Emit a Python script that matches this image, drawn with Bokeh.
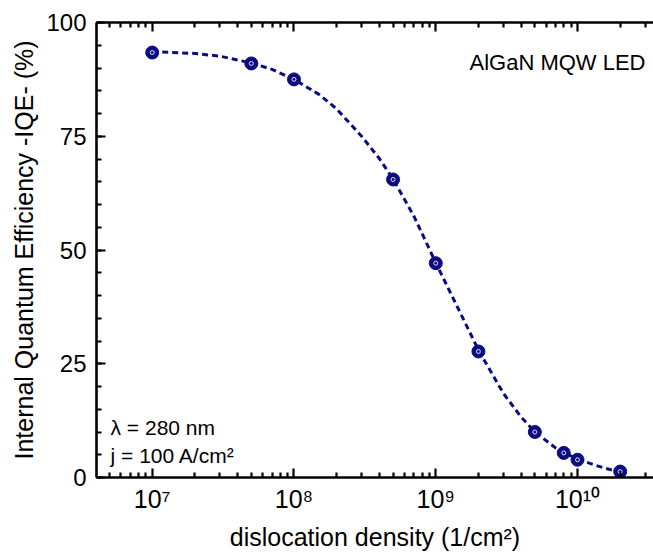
from bokeh.plotting import figure
from bokeh.models import Range1d, FixedTicker, LogAxis, Label, ColumnDataSource
from bokeh.embed import file_html
from bokeh.resources import INLINE

# measured points
density = [1e7, 5e7, 1e8, 5e8, 1e9, 2e9, 5e9, 8e9, 1e10, 2e10]
iqe = [93.4, 91.0, 87.5, 65.5, 47.1, 27.7, 10.0, 5.4, 3.9, 1.3]

# dashed fit curve
fit_density = [1e7, 2e7, 3e7, 5e7, 7e7, 1e8, 1.5e8, 2e8, 3e8, 4e8, 5e8, 7e8, 1e9,
               1.5e9, 2e9, 3e9, 4e9, 5e9, 7e9, 1e10, 1.5e10, 2e10]
fit_iqe = [93.6, 93.2, 92.6, 91.1, 89.7, 87.5, 84.2, 81.0, 75.0, 70.1, 65.6, 57.5, 47.2,
           36.0, 28.0, 18.5, 13.3, 10.0, 6.5, 4.0, 2.2, 1.2]

x_ticks = [1e7, 1e8, 1e9, 1e10]
x_tick_labels = ["10\u2077", "10\u2078", "10\u2079", "10\u00b9\u2070"]
x_minor = [m * 10.0 ** e for e in range(6, 11) for m in range(2, 10)]
y_ticks = [0, 25, 50, 75, 100]
y_minor = list(range(0, 101, 5))

FONT = "Liberation Sans"
NAVY = "#0b0b82"
X_LO, X_HI = 10 ** 6.607, 10 ** 10.536

p = figure(width=653, height=553, x_axis_type="log",
           x_range=Range1d(X_LO, X_HI), y_range=Range1d(0, 100),
           output_backend="svg", toolbar_location=None,
           min_border_left=96, min_border_top=22, min_border_bottom=76, min_border_right=0)
p.outline_line_color = None
p.grid.visible = False
p.background_fill_color = "white"

xt = FixedTicker(ticks=x_ticks, minor_ticks=x_minor)
yt = FixedTicker(ticks=y_ticks, minor_ticks=y_minor)


def style_ticks(ax):
    ax.axis_line_width = 2.6
    ax.major_tick_line_width = 2.2
    ax.minor_tick_line_width = 2.2
    ax.major_tick_in = 9
    ax.major_tick_out = 0
    ax.minor_tick_in = 5
    ax.minor_tick_out = 0


for ax in [p.xaxis[0], p.yaxis[0]]:
    style_ticks(ax)
    ax.major_label_text_font = FONT
    ax.major_label_text_color = "black"
    ax.axis_label_text_font = FONT
    ax.axis_label_text_font_style = "normal"
    ax.axis_label_text_color = "black"

p.xaxis[0].ticker = xt
p.xaxis[0].major_label_overrides = dict(zip(x_ticks, x_tick_labels))
p.xaxis[0].major_label_text_font_size = "25px"
p.xaxis[0].major_label_standoff = 7
p.xaxis[0].axis_label = "dislocation density (1/cm\u00b2)"
p.xaxis[0].axis_label_text_font_size = "25px"
p.xaxis[0].axis_label_standoff = 7

p.yaxis[0].ticker = yt
p.yaxis[0].major_label_text_font_size = "24px"
p.yaxis[0].major_label_standoff = 10
p.yaxis[0].axis_label = "Internal Quantum Efficiency -IQE- (%)"
p.yaxis[0].axis_label_text_font_size = "25px"
p.yaxis[0].axis_label_standoff = 5

top = LogAxis(ticker=xt)
style_ticks(top)
top.major_label_text_font_size = "1px"
top.major_label_text_color = None
top.major_label_standoff = 0
p.add_layout(top, "above")

src = ColumnDataSource(dict(x=density, y=iqe))
fit = ColumnDataSource(dict(x=fit_density, y=fit_iqe))

p.line("x", "y", source=fit, line_color=NAVY, line_width=3, line_dash="6 4")
p.scatter("x", "y", source=src, size=13, fill_color=NAVY, line_color=NAVY)
p.scatter("x", "y", source=src, size=4, fill_color=None, line_color="white",
          line_width=1, line_alpha=0.85)

p.add_layout(Label(x=X_HI, y=91.2, x_offset=-8, text="AlGaN MQW LED",
                   text_align="right", text_baseline="alphabetic",
                   text_font=FONT, text_font_size="22px", text_color="black"))
p.add_layout(Label(x=10 ** 6.706, y=11.0, text="\u03bb = 280 nm",
                   text_align="left", text_baseline="alphabetic",
                   text_font=FONT, text_font_size="21px", text_color="black"))
p.add_layout(Label(x=10 ** 6.706, y=4.8, text="j = 100 A/cm\u00b2",
                   text_align="left", text_baseline="alphabetic",
                   text_font=FONT, text_font_size="21px", text_color="black"))

open("out.html", "w").write(file_html(p, INLINE))
